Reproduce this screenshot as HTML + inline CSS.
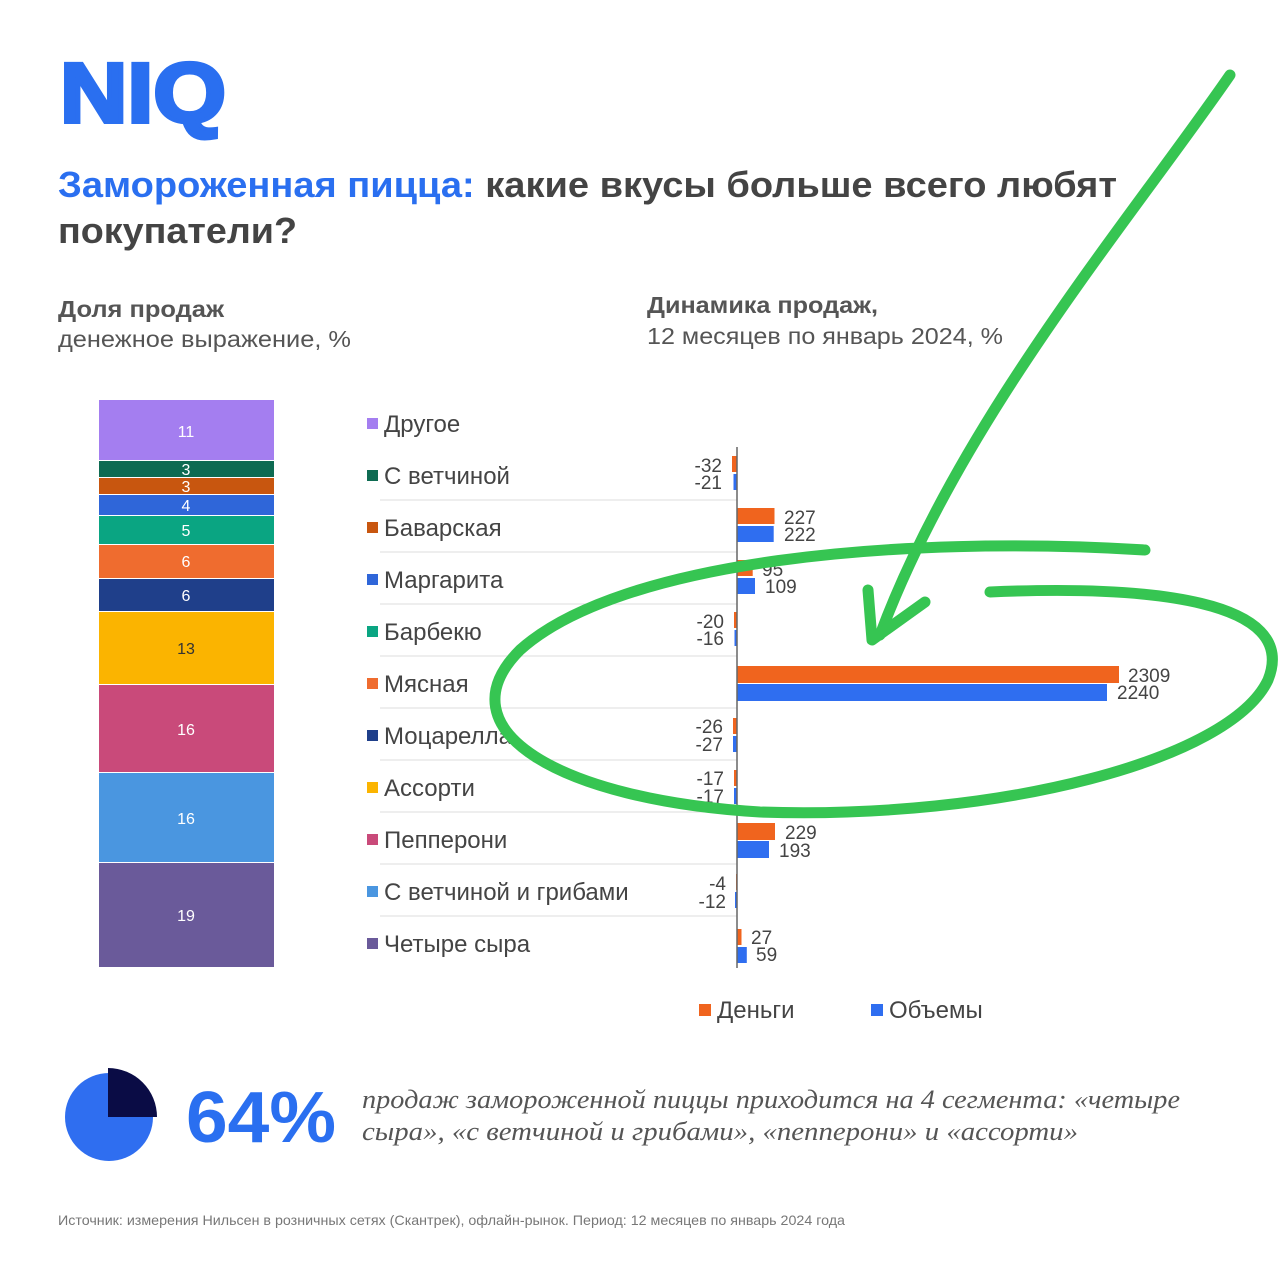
<!DOCTYPE html><html><head><meta charset="utf-8"><style>body{margin:0;background:#fff}svg{display:block}</style></head><body>
<svg width="1280" height="1280" xmlns="http://www.w3.org/2000/svg" font-family="Liberation Sans, sans-serif">
<rect width="1280" height="1280" fill="#fff"/>
<text x="60" y="122" font-size="84" font-weight="bold" fill="#2a6ff0" stroke="#2a6ff0" stroke-width="4" textLength="166" lengthAdjust="spacingAndGlyphs">NIQ</text>
<text x="58" y="197" font-size="36" font-weight="bold" fill="#2a6ff0" textLength="1059" lengthAdjust="spacingAndGlyphs">Замороженная пицца: <tspan fill="#444">какие вкусы больше всего любят</tspan></text>
<text x="58" y="243" font-size="36" font-weight="bold" fill="#444" textLength="239" lengthAdjust="spacingAndGlyphs">покупатели?</text>
<text x="58" y="317" font-size="23" font-weight="bold" fill="#555" textLength="166" lengthAdjust="spacingAndGlyphs">Доля продаж</text>
<text x="58" y="347" font-size="23" fill="#555" textLength="293" lengthAdjust="spacingAndGlyphs">денежное выражение, %</text>
<text x="647" y="313" font-size="23" font-weight="bold" fill="#555" textLength="231" lengthAdjust="spacingAndGlyphs">Динамика продаж,</text>
<text x="647" y="344" font-size="23" fill="#555" textLength="356" lengthAdjust="spacingAndGlyphs">12 месяцев по январь 2024, %</text>
<g font-size="16" fill="#fff" text-anchor="middle">
<rect x="99" y="400" width="175" height="60" fill="#a47ef0"/><text x="186" y="437">11</text>
<rect x="99" y="461" width="175" height="16" fill="#0e6b52"/><text x="186" y="475">3</text>
<rect x="99" y="478" width="175" height="16" fill="#c8560f"/><text x="186" y="492">3</text>
<rect x="99" y="495" width="175" height="20" fill="#2f66d9"/><text x="186" y="511">4</text>
<rect x="99" y="516" width="175" height="28" fill="#0aa582"/><text x="186" y="536">5</text>
<rect x="99" y="545" width="175" height="33" fill="#ef6c2f"/><text x="186" y="567">6</text>
<rect x="99" y="579" width="175" height="32" fill="#1f3f8a"/><text x="186" y="601">6</text>
<rect x="99" y="612" width="175" height="72" fill="#fbb400"/><text x="186" y="654" fill="#333">13</text>
<rect x="99" y="685" width="175" height="87" fill="#c94a7a"/><text x="186" y="735">16</text>
<rect x="99" y="773" width="175" height="89" fill="#4a96e0"/><text x="186" y="824">16</text>
<rect x="99" y="863" width="175" height="104" fill="#6a5a9a"/><text x="186" y="921">19</text>
</g>
<g font-size="24" fill="#444">
<rect x="367" y="418" width="11" height="11" fill="#a47ef0"/><text x="384" y="432">Другое</text>
<rect x="367" y="470" width="11" height="11" fill="#0e6b52"/><text x="384" y="484">С ветчиной</text>
<rect x="367" y="522" width="11" height="11" fill="#c8560f"/><text x="384" y="536">Баварская</text>
<rect x="367" y="574" width="11" height="11" fill="#2f66d9"/><text x="384" y="588">Маргарита</text>
<rect x="367" y="626" width="11" height="11" fill="#0aa582"/><text x="384" y="640">Барбекю</text>
<rect x="367" y="678" width="11" height="11" fill="#ef6c2f"/><text x="384" y="692">Мясная</text>
<rect x="367" y="730" width="11" height="11" fill="#1f3f8a"/><text x="384" y="744">Моцарелла</text>
<rect x="367" y="782" width="11" height="11" fill="#fbb400"/><text x="384" y="796">Ассорти</text>
<rect x="367" y="834" width="11" height="11" fill="#c94a7a"/><text x="384" y="848">Пепперони</text>
<rect x="367" y="886" width="11" height="11" fill="#4a96e0"/><text x="384" y="900">С ветчиной и грибами</text>
<rect x="367" y="938" width="11" height="11" fill="#6a5a9a"/><text x="384" y="952">Четыре сыра</text>
</g>
<g stroke="#ddd" stroke-width="1">
<line x1="380" y1="500" x2="737" y2="500"/><line x1="380" y1="552" x2="737" y2="552"/><line x1="380" y1="604" x2="737" y2="604"/><line x1="380" y1="656" x2="737" y2="656"/><line x1="380" y1="708" x2="737" y2="708"/><line x1="380" y1="760" x2="737" y2="760"/><line x1="380" y1="812" x2="737" y2="812"/><line x1="380" y1="864" x2="737" y2="864"/><line x1="380" y1="916" x2="737" y2="916"/>
</g>
<g font-size="19" fill="#444">
<rect x="732" y="456" width="5" height="16" fill="#f0641e"/><rect x="733.5" y="474" width="3.5" height="16" fill="#2f6ef0"/>
<text x="722" y="472" text-anchor="end">-32</text><text x="722" y="489" text-anchor="end">-21</text>
<rect x="737" y="508" width="37.5" height="16" fill="#f0641e"/><rect x="737" y="526" width="36.7" height="16" fill="#2f6ef0"/>
<text x="784" y="524">227</text><text x="784" y="541">222</text>
<rect x="737" y="560" width="15.7" height="16" fill="#f0641e"/><rect x="737" y="578" width="18" height="16" fill="#2f6ef0"/>
<text x="762" y="576">95</text><text x="765" y="593">109</text>
<rect x="734" y="612" width="3" height="16" fill="#f0641e"/><rect x="734.5" y="630" width="2.5" height="16" fill="#2f6ef0"/>
<text x="724" y="628" text-anchor="end">-20</text><text x="724" y="645" text-anchor="end">-16</text>
<rect x="737" y="666" width="382" height="17" fill="#f0641e"/><rect x="737" y="684" width="370" height="17" fill="#2f6ef0"/>
<text x="1128" y="682">2309</text><text x="1117" y="699">2240</text>
<rect x="733" y="718" width="4" height="16" fill="#f0641e"/><rect x="733" y="736" width="4" height="16" fill="#2f6ef0"/>
<text x="723" y="733" text-anchor="end">-26</text><text x="723" y="751" text-anchor="end">-27</text>
<rect x="734" y="770" width="3" height="16" fill="#f0641e"/><rect x="734" y="788" width="3" height="16" fill="#2f6ef0"/>
<text x="724" y="785" text-anchor="end">-17</text><text x="724" y="803" text-anchor="end">-17</text>
<rect x="737" y="823" width="38" height="17" fill="#f0641e"/><rect x="737" y="841" width="32" height="17" fill="#2f6ef0"/>
<text x="785" y="839">229</text><text x="779" y="857">193</text>
<rect x="736" y="874" width="1" height="16" fill="#f0641e"/><rect x="735" y="892" width="2" height="16" fill="#2f6ef0"/>
<text x="726" y="890" text-anchor="end">-4</text><text x="726" y="908" text-anchor="end">-12</text>
<rect x="737" y="929" width="4.5" height="16" fill="#f0641e"/><rect x="737" y="947" width="9.8" height="16" fill="#2f6ef0"/>
<text x="751" y="944">27</text><text x="756" y="961">59</text>
</g>
<line x1="737" y1="447" x2="737" y2="968" stroke="#666" stroke-width="1.5"/>
<rect x="699" y="1004" width="12" height="12" fill="#f0641e"/><text x="717" y="1018" font-size="24" fill="#444">Деньги</text>
<rect x="871" y="1004" width="12" height="12" fill="#2f6ef0"/><text x="889" y="1018" font-size="24" fill="#444">Объемы</text>
<g fill="none" stroke="#36c552" stroke-width="11" stroke-linecap="round" stroke-linejoin="round">
<path d="M1230 75 C1130 220 960 420 880 635"/>
<path d="M868 590 L872 640 L925 602"/>
<path d="M1145 550 C900 535 620 560 520 650 C440 730 560 800 760 812 C1000 820 1230 760 1268 680 C1300 600 1150 585 990 592"/>
</g>
<circle cx="109" cy="1117" r="44" fill="#2f6ef0"/>
<path d="M108 1068 L108 1117 L157 1117 A49 49 0 0 0 108 1068 Z" fill="#0a0c45"/>
<text x="186" y="1142" font-size="72" font-weight="bold" fill="#2a6ff0" textLength="150" lengthAdjust="spacingAndGlyphs">64%</text>
<text x="362" y="1108" font-size="26" font-style="italic" fill="#555" font-family="Liberation Serif, serif" textLength="818" lengthAdjust="spacingAndGlyphs">продаж замороженной пиццы приходится на 4 сегмента: «четыре</text>
<text x="362" y="1140" font-size="26" font-style="italic" fill="#555" font-family="Liberation Serif, serif" textLength="716" lengthAdjust="spacingAndGlyphs">сыра», «с ветчиной и грибами»,  «пепперони» и «ассорти»</text>
<text x="58" y="1225" font-size="14" fill="#777" textLength="787" lengthAdjust="spacingAndGlyphs">Источник: измерения Нильсен в розничных сетях (Скантрек), офлайн-рынок. Период: 12 месяцев по январь 2024 года</text>
</svg>
</body></html>
